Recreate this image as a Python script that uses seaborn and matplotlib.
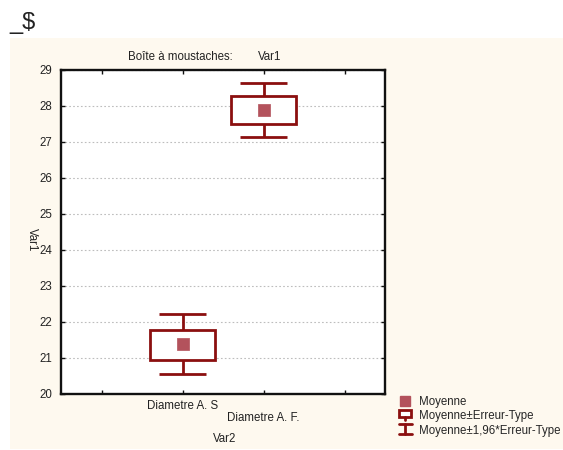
import numpy as np
import pandas as pd
import matplotlib
matplotlib.use("Agg")
import matplotlib.pyplot as plt
import seaborn as sns
from matplotlib.patches import Rectangle
from matplotlib.lines import Line2D
from matplotlib.legend_handler import HandlerBase

# ---- data ----
categories = ["Diametre A. S", "Diametre A. F."]
means = [21.38, 27.90]
se_low = [20.95, 27.51]      # Moyenne - Erreur-Type
se_high = [21.79, 28.27]     # Moyenne + Erreur-Type
ci_low = [20.56, 27.14]      # Moyenne - 1,96*Erreur-Type
ci_high = [22.21, 28.63]     # Moyenne + 1,96*Erreur-Type
y_ticks = [20, 21, 22, 23, 24, 25, 26, 27, 28, 29]

legend_labels = ["Moyenne", "Moyenne±Erreur-Type", "Moyenne±1,96*Erreur-Type"]

# ---- style ----
sns.set_theme(style="white")
plt.rcParams["font.family"] = ["Liberation Sans", "DejaVu Sans"]
FS = 8.3

W, H = 563, 450
fig = plt.figure(figsize=(W / 100, H / 100), dpi=100)
fig.patch.set_facecolor("white")

# beige panel
fig.add_artist(Rectangle((10 / W, (H - 449) / H), (W - 10) / W, (449 - 38) / H,
                         transform=fig.transFigure, facecolor="#fef9ef",
                         edgecolor="none", zorder=0))
fig.text(9 / W, 1 - 23 / H, "_$", fontsize=17, va="center", ha="left", color="#222222")

ax_l, ax_r, ax_t, ax_b = 61, 385, 70, 394
ax = fig.add_axes([ax_l / W, (H - ax_b) / H, (ax_r - ax_l) / W, (ax_b - ax_t) / H])
ax.set_facecolor("white")

dark = "#8b0f0f"
mean_col = "#b3525c"

df = pd.DataFrame({"cat": categories, "mean": means, "se_low": se_low, "se_high": se_high,
                   "ci_low": ci_low, "ci_high": ci_high})
df["x"] = np.arange(len(df)) + 1

# whiskers (1.96*SE)
ax.vlines(df["x"], df["ci_low"], df["se_low"], color=dark, lw=2, zorder=3)
ax.vlines(df["x"], df["se_high"], df["ci_high"], color=dark, lw=2, zorder=3)
ax.hlines(df["ci_low"], df["x"] - 0.29, df["x"] + 0.29, color=dark, lw=2, zorder=3)
ax.hlines(df["ci_high"], df["x"] - 0.29, df["x"] + 0.29, color=dark, lw=2, zorder=3)
# boxes (SE)
ax.bar(df["x"], df["se_high"] - df["se_low"], bottom=df["se_low"], width=0.8,
       facecolor="white", edgecolor=dark, linewidth=2, zorder=3)
# means
sns.scatterplot(data=df, x="x", y="mean", marker="s", s=70, color=mean_col,
                edgecolor=mean_col, linewidth=0.5, ax=ax, zorder=4, legend=False)

ax.set_xlim(-0.5, 3.5)
ax.set_ylim(20, 29)
ax.set_yticks(y_ticks)
ax.set_yticklabels([str(v) for v in y_ticks], fontsize=FS, color="#222222")
ax.set_xticks([0, 1, 2, 3])
ax.set_xticklabels([])
ax.yaxis.grid(True, color="#bdbdbd", linestyle=(0, (1.5, 2)), lw=0.8)
ax.xaxis.grid(False)
ax.set_axisbelow(True)
for sp in ax.spines.values():
    sp.set_color("#111111")
    sp.set_linewidth(1.7)
ax.tick_params(axis="both", direction="in", length=3, width=1, colors="#111111",
               top=True, right=True, bottom=True, left=True, pad=4,
               labelcolor="#222222")
ax.tick_params(axis="y", pad=6)
ax.set_xlabel("")
ax.set_ylabel("")

# staggered category labels
for i, (xv, lab) in enumerate(zip(df["x"], categories)):
    off = -8.8 if i % 2 == 0 else -17.5
    ax.annotate(lab, xy=(xv, 0), xycoords=("data", "axes fraction"),
                xytext=(0, off), textcoords="offset points",
                ha="center", va="center", fontsize=FS, color="#222222")

fig.text(225 / W, 1 - 439 / H, "Var2", fontsize=FS, ha="center", va="center", color="#222222")
fig.text(32 / W, 1 - 240 / H, "Var1", fontsize=FS, ha="center", va="center",
         rotation=-90, color="#222222")
fig.text(128 / W, 1 - 57 / H, "Boîte à moustaches:", fontsize=FS, ha="left", va="center",
         color="#222222")
fig.text(258 / W, 1 - 57 / H, "Var1", fontsize=FS, ha="left", va="center", color="#222222")


# legend handlers
class BoxHandler(HandlerBase):
    def create_artists(self, legend, orig, xd, yd, w, h, fs, trans):
        bw = w * 0.85
        x0 = xd + (w - bw) / 2
        r = Rectangle((x0, yd + h * 0.25), bw, h * 0.75, facecolor="white",
                      edgecolor=dark, lw=2, transform=trans)
        s = Line2D([xd + w / 2, xd + w / 2], [yd - h * 0.1, yd + h * 0.25], color=dark,
                   lw=2, transform=trans)
        return [r, s]


class WhiskerHandler(HandlerBase):
    def create_artists(self, legend, orig, xd, yd, w, h, fs, trans):
        cx = xd + w / 2
        hw = w * 0.45
        top, bot = yd + h * 1.05, yd - h * 0.05
        a = Line2D([cx, cx], [bot, top], color=dark, lw=2, transform=trans)
        b = Line2D([cx - hw, cx + hw], [top, top], color=dark, lw=2, transform=trans)
        c = Line2D([cx - hw, cx + hw], [bot, bot], color=dark, lw=2, transform=trans)
        return [a, b, c]


h_mean = Line2D([], [], marker="s", ls="", color=mean_col, markersize=6.5)
h_box = Rectangle((0, 0), 1, 1)
h_wh = Line2D([], [])
fig.legend([h_mean, h_box, h_wh], legend_labels, loc="upper left",
           bbox_to_anchor=(398 / W, 1 - 396 / H), frameon=False, fontsize=FS,
           handlelength=1.25, handleheight=0.8, handletextpad=0.55, labelspacing=0.2,
           borderpad=0, borderaxespad=0,
           handler_map={h_box: BoxHandler(), h_wh: WhiskerHandler()})

fig.savefig("out.png", dpi=100)
